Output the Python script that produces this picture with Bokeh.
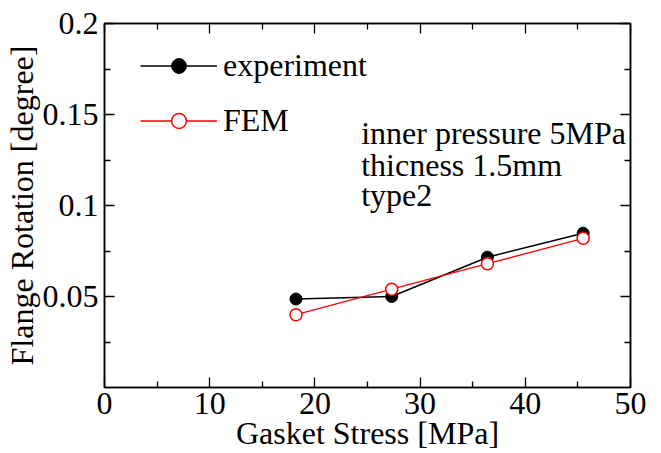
from bokeh.plotting import figure
from bokeh.models import (LinearAxis, FixedTicker, Range1d, Legend, LegendItem, Label)
from bokeh.embed import file_html
from bokeh.resources import INLINE

# ---- data ----
gasket_stress = [18.2, 27.3, 36.4, 45.5]
experiment = [0.0486, 0.0500, 0.0716, 0.0848]
fem = [0.0400, 0.0540, 0.0680, 0.0820]

x_ticks = [0, 10, 20, 30, 40, 50]
x_tick_labels = ["0", "10", "20", "30", "40", "50"]
x_minor = [5, 15, 25, 35, 45]
y_ticks = [0.05, 0.1, 0.15, 0.2]
y_tick_labels = ["0.05", "0.1", "0.15", "0.2"]
y_minor = [0.025, 0.075, 0.125, 0.175]

x_title = "Gasket Stress [MPa]"
y_title = "Flange Rotation [degree]"
series_names = ["experiment", "FEM"]
notes = ["inner pressure 5MPa", "thicness 1.5mm", "type2"]
note_x = 24.4
note_y = [0.1397, 0.1222, 0.1058]

FONT = "Liberation Serif"
TICK_FS = "32px"
LABEL_FS = "32px"

p = figure(width=661, height=453, output_backend="svg", toolbar_location=None,
           x_range=Range1d(0, 50), y_range=Range1d(0, 0.2),
           min_border_left=103, min_border_right=31, min_border_top=23, min_border_bottom=65,
           x_axis_label=x_title, y_axis_label=y_title)
p.background_fill_color = "white"
p.border_fill_color = "white"
p.xgrid.visible = False
p.ygrid.visible = False
p.outline_line_color = "black"
p.outline_line_width = 1.5

def style_axis(ax, ticks, minor, labels, show_labels=True):
    ax.ticker = FixedTicker(ticks=ticks, minor_ticks=minor)
    ax.major_tick_in = 10
    ax.major_tick_out = 0
    ax.minor_tick_in = 6
    ax.minor_tick_out = 0
    ax.axis_line_color = "black"
    ax.axis_line_width = 1.5
    ax.major_tick_line_width = 1.3
    ax.minor_tick_line_width = 1.3
    ax.major_tick_line_color = "black"
    ax.minor_tick_line_color = "black"
    if show_labels:
        ax.major_label_overrides = {t: l for t, l in zip(ticks, labels)}
        ax.major_label_text_font = FONT
        ax.major_label_text_font_size = TICK_FS
        ax.major_label_text_color = "black"
        ax.axis_label_text_font = FONT
        ax.axis_label_text_font_size = LABEL_FS
        ax.axis_label_text_font_style = "normal"
        ax.axis_label_text_color = "black"
    else:
        ax.major_label_text_font_size = "0px"
        ax.major_label_standoff = 0
        ax.major_label_overrides = {t: "" for t in ticks}

style_axis(p.xaxis[0], x_ticks, x_minor, x_tick_labels)
style_axis(p.yaxis[0], y_ticks, y_minor, y_tick_labels)
p.xaxis[0].major_label_standoff = 5
p.xaxis[0].axis_label_standoff = -2
p.yaxis[0].major_label_standoff = 6
p.yaxis[0].axis_label_standoff = 0

top = LinearAxis()
style_axis(top, x_ticks, x_minor, x_tick_labels, show_labels=False)
p.add_layout(top, "above")
right = LinearAxis()
style_axis(right, y_ticks, y_minor, y_tick_labels, show_labels=False)
p.add_layout(right, "right")

r_exp = p.line(gasket_stress, experiment, line_color="black", line_width=1.5)
s_exp = p.scatter(gasket_stress, experiment, size=12, marker="circle",
                  fill_color="black", line_color="black")
r_fem = p.line(gasket_stress, fem, line_color="red", line_width=1.3)
s_fem = p.scatter(gasket_stress, fem, size=12, marker="circle",
                  fill_color="white", line_color="red", line_width=1.5)

legend = Legend(items=[LegendItem(label=series_names[0], renderers=[r_exp, s_exp]),
                       LegendItem(label=series_names[1], renderers=[r_fem, s_fem])],
                location=(36, 248), orientation="vertical",
                glyph_width=77, glyph_height=37, spacing=18, padding=0, margin=0,
                label_standoff=6, label_text_font=FONT, label_text_font_size=LABEL_FS,
                label_text_color="black", border_line_color=None,
                background_fill_alpha=0)
p.add_layout(legend)

for txt, yy in zip(notes, note_y):
    p.add_layout(Label(x=note_x, y=yy, text=txt, text_font=FONT, text_font_size=LABEL_FS,
                       text_baseline="middle", text_align="left", text_color="black"))

open("out.html", "w").write(file_html(p, INLINE))
